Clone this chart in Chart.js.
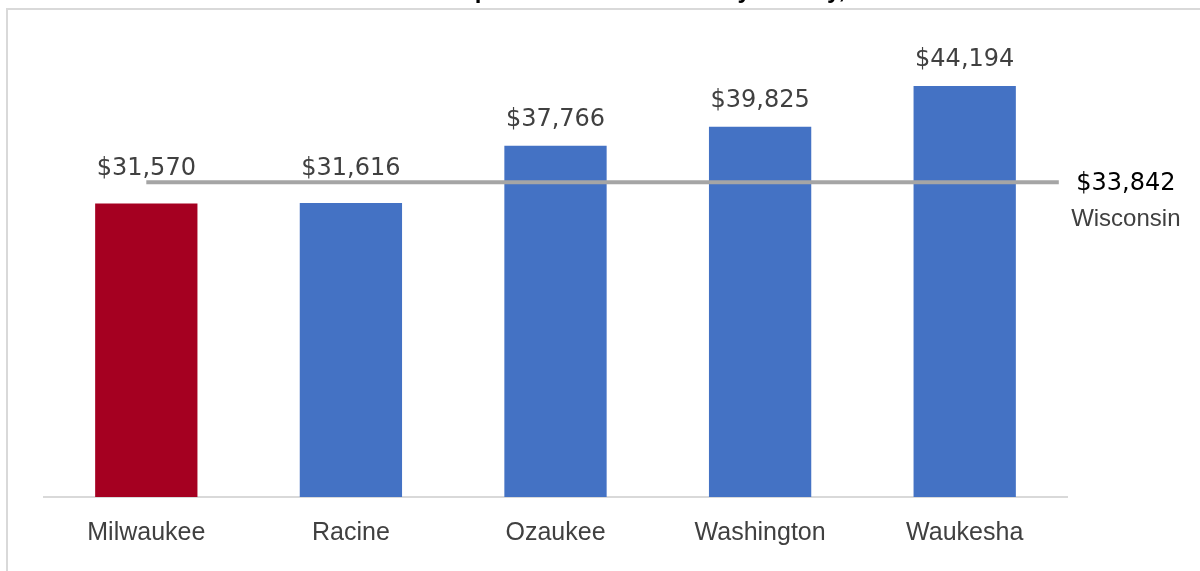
<!DOCTYPE html>
<html>
<head>
<meta charset="utf-8">
<script src="https://cdn.jsdelivr.net/npm/chart.js@4.4.1/dist/chart.umd.min.js"></script>
<style>
  html, body { margin: 0; padding: 0; background: #fff; overflow: hidden; }
  body { width: 1200px; height: 571px; position: relative; }
  #frame { position: absolute; left: 6px; top: 8px; width: 1400px; height: 800px;
           border: 2px solid #d9d9d9; box-sizing: border-box; }
  #wrap { position: absolute; left: 0; top: -30px; width: 1200px; height: 601px; }
</style>
</head>
<body>
<div id="frame"></div>
<div id="wrap"><canvas id="incomeChart"></canvas></div>
<script>
const counties = ['Milwaukee', 'Racine', 'Ozaukee', 'Washington', 'Waukesha'];
const incomes = [31570, 31616, 37766, 39825, 44194];
const barColors = ['#a50021', '#4472c4', '#4472c4', '#4472c4', '#4472c4'];
const stateName = 'Wisconsin';
const stateIncome = 33842;
const stateLineSpan = [0.5, 4.96];
const chartTitle = 'Per Capita Personal Income by County, 2019';

const money = v => '$' + v.toLocaleString('en-US');

// labels over the bars, the state value at the end of its line, and the title
const labelPlugin = {
  id: 'labels',
  afterDatasetsDraw(chart) {
    const ctx = chart.ctx;
    const yScale = chart.scales.y;
    const lineY = yScale.getPixelForValue(stateIncome);
    ctx.save();
    ctx.textAlign = 'center';
    ctx.textBaseline = 'middle';
    ctx.font = '24px "DejaVu Sans"';
    ctx.fillStyle = '#404040';
    chart.getDatasetMeta(0).data.forEach((bar, i) => {
      let cy = bar.y - 26;
      if (Math.abs(cy - lineY) < 16) cy = lineY - 14;
      ctx.fillText(money(incomes[i]), bar.x, cy);
    });

    const linePts = chart.getDatasetMeta(1).data;
    const endX = linePts[linePts.length - 1].x + 67;
    ctx.fillStyle = '#000';
    ctx.fillText(money(stateIncome), endX, lineY + 1);
    ctx.font = '24px "Liberation Sans"';
    ctx.fillStyle = '#404040';
    ctx.fillText(stateName, endX, lineY + 37);

    ctx.font = 'bold 24px "Liberation Sans"';
    ctx.fillStyle = '#000';
    ctx.textBaseline = 'alphabetic';
    ctx.fillText(chartTitle, 652, 28);
    ctx.restore();
  }
};

const ctx = document.getElementById('incomeChart').getContext('2d');
new Chart(ctx, {
  type: 'bar',
  data: {
    labels: counties,
    datasets: [{
      type: 'bar',
      data: incomes,
      backgroundColor: barColors,
      barPercentage: 0.5,
      categoryPercentage: 1.0,
      grouped: false,
      order: 2
    }, {
      type: 'line',
      xAxisID: 'x2',
      data: stateLineSpan.map(x => ({ x: x, y: stateIncome })),
      borderColor: '#a5a5a5',
      borderWidth: 4,
      pointRadius: 0,
      fill: false,
      order: 1
    }]
  },
  options: {
    responsive: true,
    maintainAspectRatio: false,
    animation: false,
    layout: { padding: { left: 44, right: 133, top: 62, bottom: 0 } },
    plugins: {
      legend: { display: false },
      tooltip: { enabled: false },
      title: { display: false }
    },
    scales: {
      x: {
        type: 'category',
        grid: { display: false, drawTicks: false },
        border: { display: true, color: '#d9d9d9', width: 2 },
        ticks: { color: '#404040', font: { family: 'Liberation Sans', size: 25 }, padding: 21 },
        afterFit(scale) { scale.height = 74; }
      },
      x2: { type: 'linear', min: 0, max: 5, offset: false, display: false },
      y: { min: 0, max: 50000, display: false }
    }
  },
  plugins: [labelPlugin]
});
</script>
</body>
</html>
